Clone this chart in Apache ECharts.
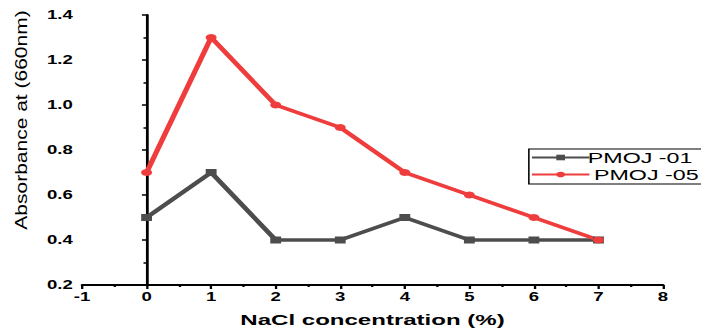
<!DOCTYPE html>
<html>
<head>
<meta charset="utf-8">
<script src="https://cdn.jsdelivr.net/npm/echarts@6/dist/echarts.min.js"></script>
<style>
  html, body { margin: 0; padding: 0; background: #fff; overflow: hidden; }
  /* The figure is laid out narrow and then widened, giving its broad lettering */
  #chart { width: 452px; height: 333px; transform: scaleX(1.5509); transform-origin: 0 0; }
</style>
</head>
<body>
<div id="chart"></div>
<script>
// NaCl concentration (%)
const concentrations = [0, 1, 2, 3, 4, 5, 6, 7];
// Absorbance at 660 nm for each strain
const pmoj01 = [0.5, 0.7, 0.4, 0.4, 0.5, 0.4, 0.4, 0.4];
const pmoj05 = [0.7, 1.3, 1.0, 0.9, 0.7, 0.6, 0.5, 0.4];
const seriesNames = ['PMOJ -01', 'PMOJ -05'];

const font = 'Liberation Sans, Arial, sans-serif';
const gray = '#4d4d4d';
const red = '#ef3d3d';

function pairs(ys) { return concentrations.map((x, i) => [x, ys[i]]); }

const chart = echarts.init(document.getElementById('chart'), null, { renderer: 'svg' });
chart.setOption({
  animation: false,
  backgroundColor: '#fff',
  grid: { left: 52.9, right: 24.5, top: 15, bottom: 44, containLabel: false },
  xAxis: {
    type: 'value', min: -1, max: 8, interval: 1,
    name: 'NaCl concentration (%)', nameLocation: 'middle', nameGap: 27,
    nameTextStyle: { fontFamily: font, fontSize: 15.5, fontWeight: 'bold', color: '#000' },
    axisLine: { show: true, lineStyle: { color: '#000', width: 1.8 } },
    axisTick: { show: true, inside: false, length: 4, lineStyle: { color: '#000', width: 1.5 } },
    minorTick: { show: true, splitNumber: 2, length: 2, lineStyle: { color: '#000', width: 1.5 } },
    axisLabel: { fontFamily: font, fontSize: 12, fontWeight: 'bold', color: '#000', margin: 6 },
    splitLine: { show: false }
  },
  yAxis: {
    type: 'value', min: 0.2, max: 1.4, interval: 0.2,
    axisLine: { show: true, lineStyle: { color: '#000', width: 1.8 } },
    axisTick: { show: true, inside: false, length: 3, lineStyle: { color: '#000', width: 1.5 } },
    minorTick: { show: true, splitNumber: 2, length: 2, lineStyle: { color: '#000', width: 1.5 } },
    axisLabel: { fontFamily: font, fontSize: 12, fontWeight: 'bold', color: '#000', margin: 6,
                 formatter: v => v.toFixed(1) },
    splitLine: { show: false }
  },
  legend: {
    orient: 'vertical', left: 341, top: 149,
    padding: [1, 40, 2, 1], itemGap: 2, itemWidth: 37, itemHeight: 7,
    borderColor: '#000', borderWidth: 1,
    textStyle: { fontFamily: font, fontSize: 15, color: '#000' },
    data: [
      { name: seriesNames[0], textStyle: { padding: [0, 0, 0, -6] } },
      { name: seriesNames[1], textStyle: { padding: [0, 0, 0, -2] } }
    ]
  },
  graphic: [{
    type: 'text', x: 13.6, y: 120, rotation: Math.PI / 2, scaleY: 0.52,
    style: { text: 'Absorbance at (660nm)', font: '21px ' + font, fill: '#000',
             align: 'center', verticalAlign: 'middle' }
  }],
  series: [
    {
      name: seriesNames[0], type: 'line', data: pairs(pmoj01),
      symbol: 'rect', symbolSize: 7, showAllSymbol: true,
      lineStyle: { color: gray, width: 3.5 }, itemStyle: { color: gray }
    },
    {
      name: seriesNames[1], type: 'line', data: pairs(pmoj05),
      symbol: 'circle', symbolSize: 7, showAllSymbol: true,
      lineStyle: { color: red, width: 3.5 }, itemStyle: { color: red }
    }
  ]
});
</script>
</body>
</html>
